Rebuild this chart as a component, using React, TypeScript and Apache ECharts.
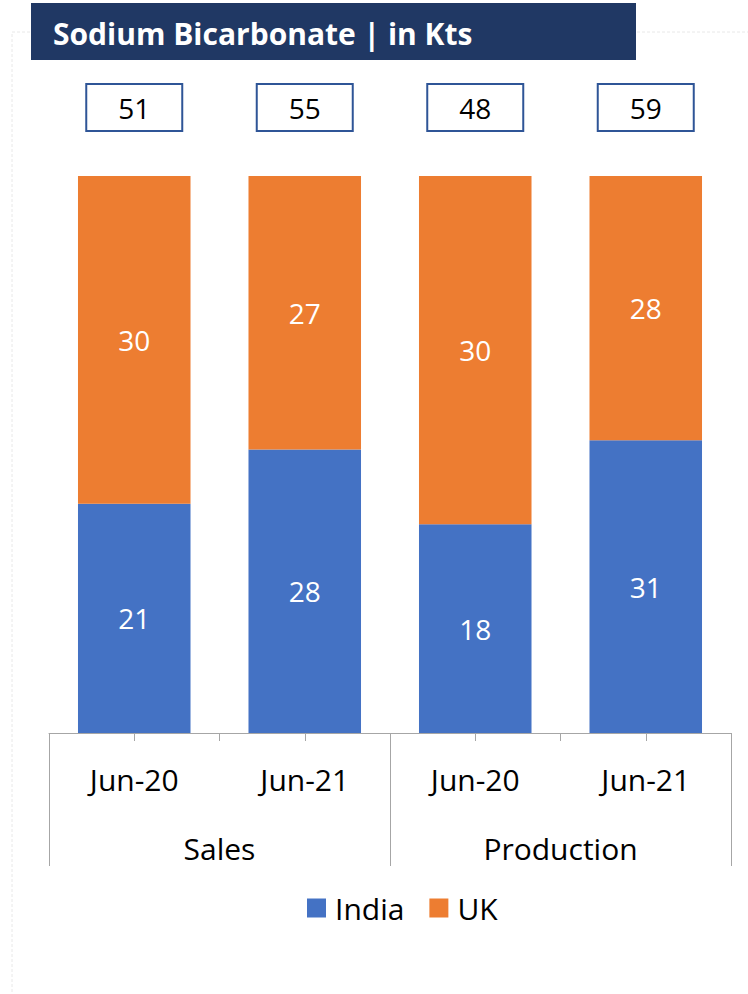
import React, { useEffect, useRef } from "react";
import * as echarts from "echarts";

const categories = ["Jun-20", "Jun-21", "Jun-20", "Jun-21"];
const groups = ["Sales", "Production"];
const india = [21, 28, 18, 31];
const uk = [30, 27, 30, 28];
const title = "Sodium Bicarbonate | in Kts";

const FONT = "'Open Sans', 'Noto Sans', sans-serif";

export default function App() {
  const ref = useRef<HTMLDivElement>(null);
  useEffect(() => {
    if (!ref.current) return;
    const chart = echarts.init(ref.current, null, { renderer: "svg" });
    const totals = india.map((v, i) => v + uk[i]);
    const indiaPct = india.map((v, i) => (v / totals[i]) * 100);
    const ukPct = uk.map((v, i) => (v / totals[i]) * 100);
    const halfTicks = categories.flatMap((c, i) => [c + "a" + i, c + "b" + i]);

    chart.setOption({
      animation: false,
      backgroundColor: "#ffffff",
      textStyle: { fontFamily: FONT },
      graphic: [
        {
          type: "rect",
          shape: { x: 12, y: 32, width: 760, height: 1000 },
          style: { fill: "none", stroke: "#e8e8e8", lineWidth: 1, lineDash: [3, 2] },
          z: -1,
        },
        {
          type: "rect",
          shape: { x: 31, y: 3, width: 605, height: 57 },
          style: { fill: "#203864" },
        },
        {
          type: "text",
          x: 53,
          y: 33,
          style: {
            text: title,
            fill: "#ffffff",
            fontSize: 30,
            fontWeight: "bold",
            fontFamily: FONT,
            verticalAlign: "middle",
          },
        },
      ],
      legend: {
        data: ["India", "UK"],
        bottom: 66,
        left: 302,
        itemWidth: 19,
        itemHeight: 19,
        itemGap: 25,
        icon: "rect",
        textStyle: { fontSize: 30, color: "#000", fontFamily: FONT, padding: [0, 0, 0, 4] },
      },
      grid: { left: 49, right: 17, top: 176, bottom: 261, containLabel: false },
      xAxis: [
        {
          type: "category",
          data: categories,
          position: "bottom",
          axisLine: { show: true, lineStyle: { color: "#a6a6a6", width: 1 } },
          axisTick: { show: false },
          axisLabel: {
            fontSize: 30,
            color: "#000",
            margin: 31,
            lineHeight: 30,
            fontFamily: FONT,
          },
        },
        {
          type: "category",
          data: halfTicks,
          position: "bottom",
          axisLine: { show: false },
          axisTick: { show: true, length: 8, lineStyle: { color: "#a6a6a6" } },
          axisLabel: { show: false },
        },
        {
          type: "category",
          data: groups,
          position: "bottom",
          axisLine: { show: false },
          axisTick: { show: true, length: 133, lineStyle: { color: "#a6a6a6" } },
          axisLabel: {
            fontSize: 30,
            color: "#000",
            margin: 100,
            lineHeight: 30,
            fontFamily: FONT,
          },
        },
      ],
      yAxis: {
        type: "value",
        min: 0,
        max: 100,
        show: false,
        splitLine: { show: false },
      },
      series: [
        {
          name: "India",
          type: "bar",
          stack: "total",
          xAxisIndex: 0,
          barWidth: "66%",
          data: indiaPct,
          itemStyle: { color: "#4472C4" },
          label: {
            show: true,
            position: "inside",
            color: "#fff",
            fontSize: 28,
            fontFamily: FONT,
            formatter: (p: any) => String(india[p.dataIndex]),
          },
        },
        {
          name: "UK",
          type: "bar",
          stack: "total",
          xAxisIndex: 0,
          barWidth: "66%",
          data: ukPct,
          itemStyle: { color: "#ED7D31" },
          label: {
            show: true,
            position: "inside",
            color: "#fff",
            fontSize: 28,
            fontFamily: FONT,
            formatter: (p: any) => String(uk[p.dataIndex]),
          },
        },
        {
          name: "Total",
          type: "custom",
          xAxisIndex: 0,
          clip: false,
          data: totals.map((t, i) => [i, t]),
          encode: { x: 0, y: 1 },
          renderItem: (params: any, api: any) => {
            const idx = api.value(0);
            const p = api.coord([idx, 100]);
            return {
              type: "group",
              children: [
                {
                  type: "rect",
                  shape: { x: p[0] - 48, y: p[1] - 92, width: 96, height: 47 },
                  style: { fill: "#fff", stroke: "#2F5597", lineWidth: 2 },
                },
                {
                  type: "text",
                  x: p[0],
                  y: p[1] - 68,
                  style: {
                    text: String(api.value(1)),
                    align: "center",
                    verticalAlign: "middle",
                    fontSize: 28,
                    fill: "#000",
                    fontFamily: FONT,
                  },
                },
              ],
            };
          },
        },
      ],
    });
    return () => chart.dispose();
  }, []);
  return (
    <div
      ref={ref}
      style={{ position: "fixed", left: 0, top: 0, width: 748, height: 994 }}
    />
  );
}
